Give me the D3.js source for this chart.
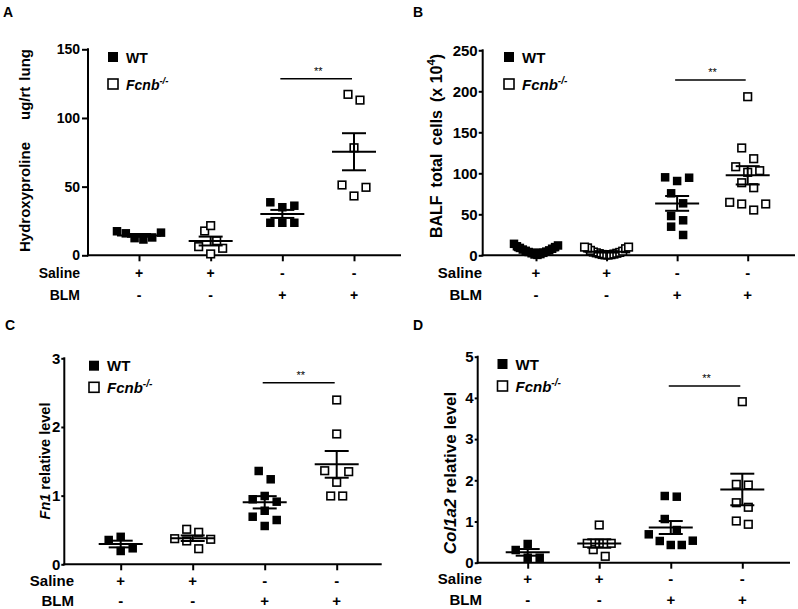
<!DOCTYPE html>
<html><head><meta charset="utf-8">
<script src="https://cdn.jsdelivr.net/npm/d3@7"></script>
<style>
html,body{margin:0;padding:0;background:#fff;}
svg{display:block;font-family:"Liberation Sans",Arial,sans-serif;}
</style></head>
<body><svg id="c" width="798" height="609"></svg>
<script>
// ---------- data ----------
const groups = ["WT_Saline", "Fcnb_Saline", "WT_BLM", "Fcnb_BLM"];
const genotype = ["WT", "Fcnb", "WT", "Fcnb"];
const salineRow = ["+", "+", "-", "-"];
const blmRow = ["-", "-", "+", "+"];

// A: Hydroxyproline (ug/rt lung)
const hypWTSaline = [12.5, 11.5, 16, 17.5, 16.5, 13];
const hypFcnbSaline = [21.6, 17.7, 10.6, 6.3, 5.1, 1.0];
const hypWTBLM = [36.1, 35.0, 38.6, 23.7, 23.7, 23.7];
const hypFcnbBLM = [113, 117.2, 78.3, 51.2, 49.5, 43.2];
const hypTicks = [0, 50, 100, 150];

// B: BALF total cells (x10^4)
const balfWTSaline = [14, 12, 10, 8, 6, 4.5, 3, 1.5, 0.5, 1, 2.5, 4, 5.5, 7, 9, 11];
const balfFcnbSaline = [10, 9, 6, 4, 3, 2, 1, 0.5, 0.3, 0.8, 1.5, 2.5, 3.5, 5, 8, 10];
const balfWTBLM = [94.6, 90.6, 95.1, 75.6, 63.4, 47.9, 42.7, 34.9, 24.8];
const balfFcnbBLM = [193.4, 130.9, 117.8, 108, 101.2, 103.2, 88.5, 82.4, 62.6, 55.2, 62.6, 64.6];
const balfTicks = [0, 50, 100, 150, 200, 250];

// C: Fn1 relative level
const fn1WTSaline = [0.354, 0.40, 0.194, 0.233];
const fn1FcnbSaline = [0.51, 0.466, 0.373, 0.364, 0.34, 0.227];
const fn1WTBLM = [1.359, 1.238, 0.995, 0.947, 0.912, 0.78, 0.693, 0.645, 0.558];
const fn1FcnbBLM = [2.393, 1.898, 1.349, 1.363, 1.194, 0.995, 0.995];
const fn1Ticks = [0, 1, 2, 3];

// D: Col1a2 relative level
const colWTSaline = [0.308, 0.454, 0.121, 0.121];
const colFcnbSaline = [0.915, 0.47, 0.47, 0.47, 0.316, 0.155];
const colWTBLM = [1.602, 1.619, 1.06, 0.793, 0.689, 0.43, 0.43, 0.527, 0.534];
const colFcnbBLM = [3.908, 1.886, 1.902, 1.456, 1.345, 0.932, 1.012];
const colTicks = [0, 1, 2, 3, 4, 5];

const panelLetters = ["A", "B", "C", "D"];
const sigLabel = "**";
const sigLevels = [128.6, 213.8, 2.645, 4.29];
const legendLabels = ["WT", "Fcnb"];

// ---------- layout ----------
const FONT = '"Liberation Sans", Arial, sans-serif';
const panels = [
  { letter: panelLetters[0], data: [hypWTSaline, hypFcnbSaline, hypWTBLM, hypFcnbBLM], ticks: hypTicks,
    axX: 88, axEnd: 401, y0: 255.3, yTop: 49.3, gx: [139, 354], fs: 14, tk: 6, tp: 2, rowRight: 80,
    letterPos: [3, 17], legX: 113, legY: [57, 84], rowY: [278, 300], sig: sigLevels[0],
    title: { x: 30, y: 150.5, fs: 15, kind: "A" } },
  { letter: panelLetters[1], data: [balfWTSaline, balfFcnbSaline, balfWTBLM, balfFcnbBLM], ticks: balfTicks,
    axX: 482.7, axEnd: 795, y0: 255.3, yTop: 50.3, gx: [536, 747.7], fs: 15, tk: 4, tp: 1, rowRight: 482,
    letterPos: [413, 17], legX: 509, legY: [57, 84], rowY: [278, 300], sig: sigLevels[1],
    title: { x: 442, y: 146, fs: 16, kind: "B" } },
  { letter: panelLetters[2], data: [fn1WTSaline, fn1FcnbSaline, fn1WTBLM, fn1FcnbBLM], ticks: fn1Ticks,
    axX: 64.3, axEnd: 381.7, y0: 564.3, yTop: 358.3, gx: [120.7, 336.7], fs: 15, tk: 3, tp: 1, rowRight: 74,
    letterPos: [5, 330], legX: 94, legY: [365.7, 387.3], rowY: [585.5, 605.5], sig: sigLevels[2],
    title: { x: 50, y: 461, fs: 14.5, kind: "C" } },
  { letter: panelLetters[3], data: [colWTSaline, colFcnbSaline, colWTBLM, colFcnbBLM], ticks: colTicks,
    axX: 477.7, axEnd: 790, y0: 562.7, yTop: 356.7, gx: [527.7, 742.3], fs: 15, tk: 3, tp: 1, rowRight: 482,
    letterPos: [413, 330], legX: 502.5, legY: [364, 386], rowY: [584, 605], sig: sigLevels[3],
    title: { x: 456, y: 473, fs: 17, kind: "D" } }
];

const svg = d3.select("#c");

function swarm(values, y, xc) {
  const W = 12, H = 12, maxHalf = 22;
  const items = values.map(v => ({ v, py: y(v) })).sort((a, b) => a.v - b.v);
  const out = [];
  let i = 0;
  while (i < items.length) {
    const first = items[i];
    const cl = [first];
    let j = i + 1;
    while (j < items.length && Math.abs(items[j].py - first.py) <= H) { cl.push(items[j]); j++; }
    const n = cl.length;
    const sp = n > 1 ? Math.min(W, 2 * maxHalf / (n - 1)) : 0;
    cl.forEach((it, k) => {
      let off;
      if (n % 2 === 1) { const m = Math.ceil(k / 2); off = (k === 0 ? 0 : (k % 2 === 1 ? m : -m)); }
      else { const m = Math.floor(k / 2) + 0.5; off = (k % 2 === 0 ? m : -m); }
      out.push({ v: it.v, px: xc + off * sp, py: it.py });
    });
    i = j;
  }
  return out;
}

panels.forEach((p, pi) => {
  const g = svg.append("g");
  const y = d3.scaleLinear().domain([0, d3.max(p.ticks)]).range([p.y0, p.yTop]);
  const x = d3.scalePoint().domain(groups).range(p.gx);

  // panel letter
  g.append("text").attr("x", p.letterPos[0]).attr("y", p.letterPos[1])
    .attr("font-size", 14).attr("font-weight", "bold").text(p.letter);

  // y axis
  const ya = g.append("g").attr("transform", `translate(${p.axX},0)`)
    .call(d3.axisLeft(y).tickValues(p.ticks).tickSize(p.tk).tickSizeOuter(0).tickPadding(p.tp).tickFormat(d3.format("d")));
  ya.select(".domain").attr("stroke-width", 2).attr("d", `M0,${p.y0 + 1}V${p.yTop - 1}`);
  ya.selectAll(".tick line").attr("stroke-width", 2);
  ya.selectAll(".tick text").attr("font-size", p.fs).attr("font-weight", "bold")
    .attr("font-family", FONT).attr("fill", "#000");

  // x axis
  g.append("line").attr("x1", p.axX - 1).attr("x2", p.axEnd).attr("y1", p.y0).attr("y2", p.y0)
    .attr("stroke", "#000").attr("stroke-width", 2);
  const xa = g.append("g").attr("transform", `translate(0,${p.y0})`)
    .call(d3.axisBottom(x).tickSize(6).tickSizeOuter(0).tickFormat(""));
  xa.select(".domain").remove();
  xa.selectAll(".tick line").attr("stroke-width", 2);

  // condition rows
  const rowLab = ["Saline", "BLM"];
  [salineRow, blmRow].forEach((row, ri) => {
    g.append("text").attr("x", p.rowRight).attr("y", p.rowY[ri]).attr("text-anchor", "end")
      .attr("font-size", p.fs).attr("font-weight", "bold").text(rowLab[ri]);
    g.selectAll(null).data(groups).enter().append("text")
      .attr("x", d => x(d)).attr("y", p.rowY[ri]).attr("text-anchor", "middle")
      .attr("font-size", p.fs).attr("font-weight", "bold").text((d, i) => row[i]);
  });

  // points, mean, SEM
  groups.forEach((gid, gi) => {
    const vals = p.data[gi];
    const xc = x(gid);
    const filled = genotype[gi] === "WT";
    const pts = swarm(vals, y, xc);
    const s = filled ? 8.5 : 7.6;
    g.selectAll(null).data(pts).enter().append("rect")
      .attr("x", d => d.px - s / 2).attr("y", d => d.py - s / 2)
      .attr("width", s).attr("height", s)
      .attr("fill", filled ? "#000" : "#fff")
      .attr("stroke", "#000").attr("stroke-width", filled ? 0 : 1.6);
    const m = d3.mean(vals);
    const sem = d3.deviation(vals) / Math.sqrt(vals.length);
    const eb = g.append("g").attr("stroke", "#000").attr("stroke-width", 2);
    eb.append("line").attr("x1", xc - 22).attr("x2", xc + 22).attr("y1", y(m)).attr("y2", y(m));
    eb.append("line").attr("x1", xc).attr("x2", xc).attr("y1", y(m - sem)).attr("y2", y(m + sem));
    eb.append("line").attr("x1", xc - 12).attr("x2", xc + 12).attr("y1", y(m + sem)).attr("y2", y(m + sem));
    eb.append("line").attr("x1", xc - 12).attr("x2", xc + 12).attr("y1", y(m - sem)).attr("y2", y(m - sem));
  });

  // significance
  const sy = y(p.sig);
  g.append("line").attr("x1", x(groups[2]) - 2).attr("x2", x(groups[3]) - 2).attr("y1", sy).attr("y2", sy)
    .attr("stroke", "#000").attr("stroke-width", 1.6);
  g.append("text").attr("x", (x(groups[2]) + x(groups[3])) / 2).attr("y", sy - 3.5)
    .attr("text-anchor", "middle").attr("font-size", 11).text(sigLabel);

  // legend
  legendLabels.forEach((lab, li) => {
    const ly = p.legY[li];
    g.append("rect").attr("x", p.legX - 5).attr("y", ly - 5).attr("width", 10).attr("height", 10)
      .attr("fill", li === 0 ? "#000" : "#fff").attr("stroke", "#000").attr("stroke-width", li === 0 ? 0 : 1.6);
    const t = g.append("text").attr("x", p.legX + 13).attr("y", ly + 5.5)
      .attr("font-size", p.fs).attr("font-weight", "bold");
    if (li === 0) t.text(lab);
    else {
      t.append("tspan").attr("font-style", "italic").text(lab);
      t.append("tspan").attr("font-style", "italic").attr("font-size", p.fs * 0.68).attr("dy", -6).text("-/-");
    }
  });

  // y title
  const tt = g.append("text").attr("transform", `translate(${p.title.x},${p.title.y}) rotate(-90)`)
    .attr("text-anchor", "middle").attr("font-size", p.title.fs).attr("font-weight", "bold");
  if (p.title.kind === "A") {
    tt.append("tspan").text("Hydroxyproline");
    tt.append("tspan").attr("dx", 22).text("ug/rt");
    tt.append("tspan").attr("dx", 6).text("lung");
  } else if (p.title.kind === "B") {
    tt.append("tspan").text("BALF");
    tt.append("tspan").attr("dx", 8).text("total");
    tt.append("tspan").attr("dx", 8).text("cells");
    tt.append("tspan").attr("dx", 8).text("(x 10");
    tt.append("tspan").attr("dy", -7).attr("font-size", p.title.fs * 0.7).text("4");
    tt.append("tspan").attr("dy", 7).text(")");
  } else if (p.title.kind === "C") {
    tt.append("tspan").attr("font-style", "italic").text("Fn1");
    tt.append("tspan").text(" relative level");
  } else {
    tt.append("tspan").attr("font-style", "italic").text("Col1a2");
    tt.append("tspan").text(" relative level");
  }
});
</script>
</body></html>
